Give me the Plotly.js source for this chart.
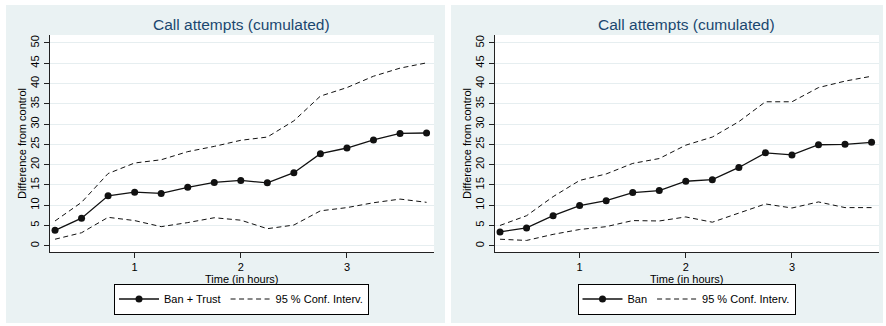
<!DOCTYPE html>
<html>
<head>
<meta charset="utf-8">
<script src="https://cdn.plot.ly/plotly-3.0.1.min.js"></script>
<style>html,body{margin:0;padding:0;background:#fff;}#chart{width:886px;height:326px;}</style>
</head>
<body>
<div id="chart"></div>
<script>
// ---- data ----
var hours = [0.25, 0.5, 0.75, 1.0, 1.25, 1.5, 1.75, 2.0, 2.25, 2.5, 2.75, 3.0, 3.25, 3.5, 3.75];

var banTrust      = [3.8, 6.8, 12.3, 13.2, 12.9, 14.4, 15.6, 16.1, 15.5, 18.0, 22.7, 24.1, 26.1, 27.7, 27.8];
var banTrustUpper = [6.1, 10.7, 17.8, 20.4, 21.2, 23.2, 24.5, 26.0, 26.8, 30.8, 36.9, 39.0, 41.8, 43.8, 45.1];
var banTrustLower = [1.6, 3.2, 7.0, 6.2, 4.7, 5.7, 6.9, 6.3, 4.2, 5.1, 8.6, 9.4, 10.6, 11.5, 10.7];

var ban      = [3.4, 4.4, 7.4, 9.9, 11.1, 13.1, 13.6, 15.9, 16.3, 19.3, 22.9, 22.4, 24.9, 25.0, 25.5];
var banUpper = [5.0, 7.4, 12.1, 16.1, 17.7, 20.3, 21.5, 24.8, 26.8, 30.6, 35.5, 35.5, 39.0, 40.6, 41.8];
var banLower = [1.6, 1.3, 2.8, 4.0, 4.7, 6.2, 6.1, 7.1, 5.8, 8.1, 10.3, 9.3, 10.8, 9.4, 9.4];

var yTicks = [0, 5, 10, 15, 20, 25, 30, 35, 40, 45, 50];
var xTicks = [1, 2, 3];

var panelTitle = 'Call attempts (cumulated)';
var xTitle = 'Time (in hours)';
var yTitle = 'Difference from control';
var ciName = '95 % Conf. Interv.';

// ---- layout helpers ----
var W = 886, H = 326;
function px(x) { return x / W; }
function py(y) { return 1 - y / H; }

var fontFam = '"Liberation Sans", Arial, Helvetica, sans-serif';
var ink = '#111111';

function meanTrace(y, name, xa, ya, leg) {
  return {x: hours, y: y, name: name, type: 'scatter', mode: 'lines+markers',
    xaxis: xa, yaxis: ya, legend: leg,
    line: {color: ink, width: 1.3},
    marker: {color: ink, size: 7, symbol: 'circle'}};
}
function ciTrace(y, xa, ya, leg, show) {
  return {x: hours, y: y, name: ciName, type: 'scatter', mode: 'lines',
    xaxis: xa, yaxis: ya, legend: leg, legendgroup: 'ci' + leg, showlegend: show,
    line: {color: ink, width: 1, dash: '5px,3.5px'}};
}

var data = [
  meanTrace(banTrust, 'Ban + Trust', 'x', 'y', 'legend'),
  ciTrace(banTrustUpper, 'x', 'y', 'legend', true),
  ciTrace(banTrustLower, 'x', 'y', 'legend', false),
  meanTrace(ban, 'Ban', 'x2', 'y2', 'legend2'),
  ciTrace(banUpper, 'x2', 'y2', 'legend2', true),
  ciTrace(banLower, 'x2', 'y2', 'legend2', false)
];

function xAxis(domain, anchor) {
  return {domain: domain, anchor: anchor, range: [0.198, 3.82],
    tickmode: 'array', tickvals: xTicks, ticks: 'outside', ticklen: 5, tickwidth: 1,
    tickcolor: '#222', showline: true, linecolor: '#222', linewidth: 1,
    showgrid: false, zeroline: false,
    tickfont: {family: fontFam, size: 11, color: '#000'},
    title: {text: xTitle, font: {family: fontFam, size: 11, color: '#000'}, standoff: 0}};
}
function yAxis(domain, anchor) {
  return {domain: domain, anchor: anchor, range: [-1.55, 51.97],
    tickmode: 'array', tickvals: yTicks, tickangle: -90, ticks: 'outside', ticklen: 5, tickwidth: 1,
    tickcolor: '#222', showline: true, linecolor: '#222', linewidth: 1,
    showgrid: true, gridcolor: '#e6eef0', gridwidth: 1, zeroline: false,
    tickfont: {family: fontFam, size: 11, color: '#000'},
    title: {text: yTitle, font: {family: fontFam, size: 11, color: '#000'}, standoff: 0}};
}

var yDom = [py(252), py(35)];
var legendBase = {orientation: 'h', xanchor: 'center', yanchor: 'middle', y: py(299),
  bgcolor: '#ffffff', bordercolor: '#000', borderwidth: 1, itemwidth: 40,
  font: {family: fontFam, size: 11, color: '#000'}, tracegroupgap: 0};

var layout = {
  width: W, height: H, autosize: false,
  margin: {l: 0, r: 0, t: 0, b: 0, pad: 0},
  paper_bgcolor: '#ffffff', plot_bgcolor: 'rgba(0,0,0,0)',
  showlegend: true,
  xaxis: xAxis([px(49.5), px(434)], 'y'),
  yaxis: yAxis(yDom, 'x'),
  xaxis2: xAxis([px(494.5), px(879)], 'y2'),
  yaxis2: yAxis(yDom, 'x2'),
  legend: Object.assign({}, legendBase, {x: px(241.5)}),
  legend2: Object.assign({}, legendBase, {x: px(686.5)}),
  shapes: [
    {type: 'rect', xref: 'paper', yref: 'paper', x0: px(6), x1: px(445), y0: py(323), y1: py(5),
     fillcolor: '#eaf2f3', line: {width: 0}, layer: 'below'},
    {type: 'rect', xref: 'paper', yref: 'paper', x0: px(451), x1: px(883), y0: py(323), y1: py(5),
     fillcolor: '#eaf2f3', line: {width: 0}, layer: 'below'},
    {type: 'rect', xref: 'x domain', yref: 'y domain', x0: 0, x1: 1, y0: 0, y1: 1,
     fillcolor: '#ffffff', line: {width: 0}, layer: 'below'},
    {type: 'rect', xref: 'x2 domain', yref: 'y2 domain', x0: 0, x1: 1, y0: 0, y1: 1,
     fillcolor: '#ffffff', line: {width: 0}, layer: 'below'}
  ],
  annotations: [
    {text: panelTitle, xref: 'paper', yref: 'paper', x: px(241.5), y: py(24),
     xanchor: 'center', yanchor: 'middle', showarrow: false,
     font: {family: fontFam, size: 15.5, color: '#1a476f'}},
    {text: panelTitle, xref: 'paper', yref: 'paper', x: px(686.5), y: py(24),
     xanchor: 'center', yanchor: 'middle', showarrow: false,
     font: {family: fontFam, size: 15.5, color: '#1a476f'}}
  ]
};

Plotly.newPlot('chart', data, layout, {displayModeBar: false, staticPlot: true});
</script>
</body>
</html>
